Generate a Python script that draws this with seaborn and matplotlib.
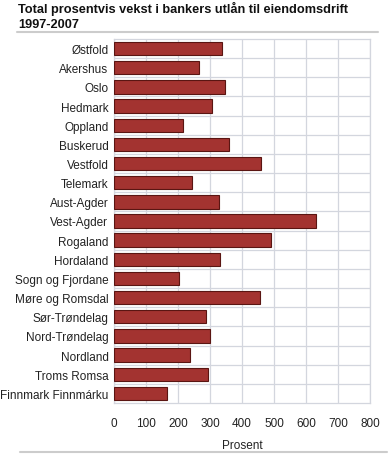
import matplotlib
matplotlib.use("Agg")
import matplotlib.pyplot as plt
import seaborn as sns
import pandas as pd
from matplotlib.lines import Line2D

regions = ["Østfold", "Akershus", "Oslo", "Hedmark", "Oppland", "Buskerud", "Vestfold",
           "Telemark", "Aust-Agder", "Vest-Agder", "Rogaland", "Hordaland", "Sogn og Fjordane",
           "Møre og Romsdal", "Sør-Trøndelag", "Nord-Trøndelag", "Nordland", "Troms Romsa",
           "Finnmark Finnmárku"]
growth = [336, 266, 348, 305, 216, 358, 458, 244, 328, 630, 490, 331, 203, 456, 287, 300,
          236, 293, 166]
xticks = [0, 100, 200, 300, 400, 500, 600, 700, 800]
title_lines = ["Total prosentvis vekst i bankers utlån til eiendomsdrift", "1997-2007"]

df = pd.DataFrame({"region": regions, "growth": growth})

sns.set_theme(style="white")
plt.rcParams['font.family'] = ['Liberation Sans', 'DejaVu Sans']

fig = plt.figure(figsize=(3.92, 4.56), dpi=100)
ax = fig.add_axes([114/392, 1 - 404/456, (370 - 114)/392, (404 - 40)/456])

sns.barplot(data=df, x="growth", y="region", orient="h", color="#a33330",
            saturation=1, width=0.7, edgecolor="#5a1512", linewidth=0.8, ax=ax, zorder=3)

ax.set_xlim(0, 800)
ax.set_ylim(len(regions) - 0.5, -0.5)
ax.set_xticks(xticks)
ax.set_xticklabels([str(t) for t in xticks], fontsize=8.5, color="#222222")
ax.set_yticks([i - 0.5 for i in range(1, len(regions))], minor=True)
ax.tick_params(axis="y", which="major", length=0, labelsize=8.5, pad=4, colors="#222222")
ax.tick_params(axis="x", length=0, pad=10)
ax.tick_params(axis="y", which="minor", length=0)
ax.grid(True, axis="x", color="#d3d6de", linewidth=0.9, zorder=0)
ax.grid(True, axis="y", which="minor", color="#d3d6de", linewidth=0.9, zorder=0)
ax.grid(False, axis="y", which="major")
for s in ax.spines.values():
    s.set_color("#d3d6de")
    s.set_linewidth(0.9)
ax.set_ylabel("")
ax.set_xlabel("Prosent", fontsize=8.5, color="#222222", labelpad=7)

for i, line in enumerate(title_lines):
    fig.text(18/392, 1 - (12.5 + 15 * i)/456, line, fontsize=9.2, fontweight="bold",
             va="baseline", ha="left", color="#111111")
fig.add_artist(Line2D([17/392, 378/392], [1 - 32.5/456, 1 - 32.5/456], color="#cccccc", linewidth=1.5))
fig.add_artist(Line2D([20/392, 387/392], [1 - 453/456, 1 - 453/456], color="#cccccc", linewidth=1.5))

fig.savefig("out.png", dpi=100)
